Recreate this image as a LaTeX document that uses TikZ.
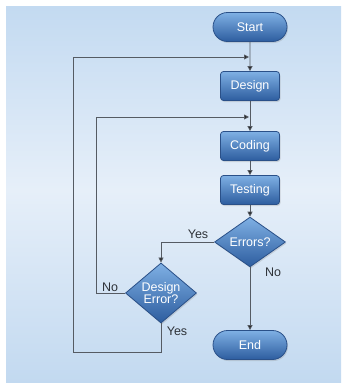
\documentclass[tikz,border=0pt]{standalone}
\usepackage{fontspec}
\setmainfont{Liberation Sans}
\usetikzlibrary{shapes.geometric,shapes.misc,arrows.meta,shadows}
\definecolor{bgTop}{HTML}{C3DAF1}
\definecolor{bgMid}{HTML}{E6EFF9}
\definecolor{bgBot}{HTML}{C2D9F0}
\definecolor{nodeTop}{HTML}{7FB0E4}
\definecolor{nodeBot}{HTML}{2D5D9F}
\definecolor{nodeEdge}{HTML}{2A5088}
\definecolor{lineCol}{HTML}{555B63}
\definecolor{lblCol}{HTML}{2E3238}
\tikzset{
  blueshade/.style={top color=nodeTop, bottom color=nodeBot, draw=nodeEdge, line width=0.8pt,
    drop shadow={opacity=0.25, shadow xshift=1pt, shadow yshift=-1.5pt},
    text=white, font=\fontsize{12.5}{13}\selectfont, inner sep=0pt, align=center},
  term/.style={blueshade, rounded rectangle, minimum width=74pt, minimum height=29pt},
  proc/.style={blueshade, rectangle, rounded corners=3pt, minimum width=59pt, minimum height=29pt},
  dec/.style={blueshade, diamond, inner sep=0pt},
  conn/.style={draw=lineCol, line width=0.8pt},
  arr/.style={conn, -{Triangle[length=5pt,width=5pt,fill=black!85]}},
  lbl/.style={text=lblCol, font=\fontsize{12.5}{13}\selectfont, inner sep=0pt}
}
\begin{document}
\begin{tikzpicture}[x=1pt,y=-1pt]
\useasboundingbox (0,0) rectangle (341,383);
\shade[top color=bgTop, bottom color=bgMid, shading angle=0] (6,6) rectangle (341,190);
\shade[top color=bgMid, bottom color=bgBot] (6,190) rectangle (341,383);
\fill[bgTop] (6,6) rectangle (341,7);

\node[term] (start) at (250,27) {Start};
\node[proc] (design) at (250,86) {Design};
\node[proc] (coding) at (250,146) {Coding};
\node[proc] (testing) at (250,190) {Testing};
\node[dec, minimum width=71pt, minimum height=42pt] (errors) at (250,242) {Errors?};
\node[dec, minimum width=71pt, minimum height=58pt] (derr) at (161,293) {Design\\[-1pt]Error?};
\node[term] (end) at (250,345) {End};

\coordinate (j1) at (249,57);
\coordinate (j2) at (249,117);
\coordinate (c1) at (73,352);
\coordinate (c2) at (73,57);
\coordinate (c3) at (96,293);
\coordinate (c4) at (96,117);

\draw[arr] (start) -- (design);
\draw[arr] (design) -- (coding);
\draw[arr] (coding) -- (testing);
\draw[arr] (testing) -- (errors);
\draw[arr] (errors) -- (end);
\draw[arr] (errors.west) -| (derr.north);
\draw[arr] (derr.west) -- (c3) -- (c4) -- (j2);
\draw[arr] (derr.south) |- (c1) -- (c2) -- (j1);

\node[lbl] (lyes1) at (198,234) {Yes};
\node[lbl] (lno1) at (273,272) {No};
\node[lbl] (lno2) at (110,287) {No};
\node[lbl] (lyes2) at (177,331) {Yes};
\end{tikzpicture}
\end{document}
